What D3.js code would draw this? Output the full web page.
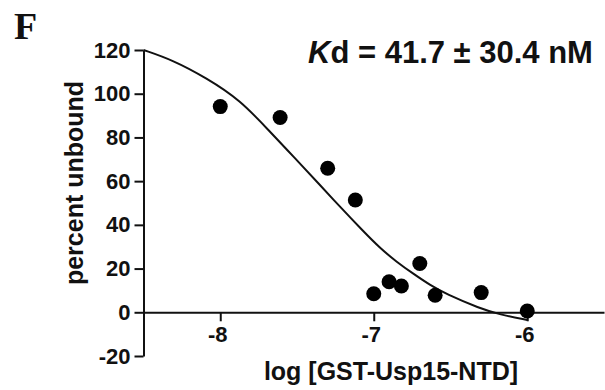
<!DOCTYPE html>
<html>
<head>
<meta charset="utf-8">
<script src="https://cdn.jsdelivr.net/npm/d3@7"></script>
<style>
  body { margin: 0; background: #fff; }
  svg { display: block; }
  text { font-family: "Liberation Sans", Arial, Helvetica, sans-serif; font-weight: bold; fill: #111; }
</style>
</head>
<body>
<div id="chart"></div>
<script>
// measured points: log [GST-Usp15-NTD] vs percent unbound
const logConc = [-8.0, -7.61, -7.30, -7.12, -7.0, -6.90, -6.82, -6.70, -6.60, -6.30, -6.0];
const unbound = [94.1, 89.1, 65.9, 51.4, 8.5, 14.0, 12.0, 22.3, 7.8, 9.0, 0.6];

// fitted curve
const fitX = [-8.50, -8.31, -8.09, -7.87, -7.68, -7.52, -7.35, -7.22, -7.07, -6.96, -6.85, -6.74, -6.63, -6.53, -6.31, -6.18, -6.00];
const fitY = [120.0, 115.4, 107.2, 97.1, 82.9, 71.0, 58.2, 48.3, 37.2, 29.4, 23.0, 17.5, 12.3, 8.4, 1.8, -1.0, -3.5];

const xTicks = [-8, -7, -6];
const yTicks = [-20, 0, 20, 40, 60, 80, 100, 120];

const width = 605, height = 390;

const svg = d3.select("#chart").append("svg")
  .attr("width", width)
  .attr("height", height);

const x = d3.scaleLinear().domain([-8.5, -5.5]).range([143.5, 604]);
const y = d3.scaleLinear().domain([-20, 120]).range([356, 50]);

// y axis
const yAxis = svg.append("g")
  .attr("transform", `translate(${x(-8.5)},0)`)
  .call(d3.axisLeft(y).tickValues(yTicks).tickSize(9).tickPadding(4).tickSizeOuter(0)
    .tickFormat(d => String(d)));
yAxis.select(".domain").attr("stroke", "#111").attr("stroke-width", 2);
yAxis.selectAll(".tick line").attr("stroke", "#111").attr("stroke-width", 2);
yAxis.selectAll(".tick text")
  .attr("font-size", 22)
  .attr("font-family", null)
  .style("fill", "#111");

// x axis at y = 0
const xAxis = svg.append("g")
  .attr("transform", `translate(0,${y(0)})`)
  .call(d3.axisBottom(x).tickValues(xTicks).tickSize(9).tickPadding(4).tickSizeOuter(0)
    .tickFormat(d => String(d)));
xAxis.select(".domain").attr("stroke", "#111").attr("stroke-width", 2);
xAxis.selectAll(".tick line").attr("stroke", "#111").attr("stroke-width", 2);
xAxis.selectAll(".tick text")
  .attr("font-size", 22)
  .attr("font-family", null)
  .attr("dx", -3)
  .attr("y", 14)
  .style("fill", "#111");

// fitted curve
const line = d3.line()
  .x((d, i) => x(fitX[i]))
  .y((d, i) => y(fitY[i]))
  .curve(d3.curveBasis);

svg.append("path")
  .datum(fitX)
  .attr("d", line)
  .attr("fill", "none")
  .attr("stroke", "#111")
  .attr("stroke-width", 2);

// points
svg.append("g")
  .selectAll("circle")
  .data(logConc)
  .join("circle")
  .attr("cx", d => x(d))
  .attr("cy", (d, i) => y(unbound[i]))
  .attr("r", 7.5)
  .attr("fill", "#000");

// axis titles
svg.append("text")
  .attr("x", 391)
  .attr("y", 380)
  .attr("text-anchor", "middle")
  .attr("font-size", 25)
  .text("log [GST-Usp15-NTD]");

svg.append("text")
  .attr("transform", "translate(83,183) rotate(-90)")
  .attr("text-anchor", "middle")
  .attr("font-size", 25)
  .text("percent unbound");

// Kd annotation
const kd = svg.append("text")
  .attr("x", 308)
  .attr("y", 63)
  .attr("font-size", 31);
kd.append("tspan").attr("font-style", "italic").text("K");
kd.append("tspan").text("d = 41.7 ± 30.4 nM");

// panel letter
svg.append("text")
  .attr("x", 14)
  .attr("y", 39)
  .attr("font-size", 38)
  .style("font-family", "'Liberation Serif', 'Times New Roman', serif")
  .text("F");
</script>
</body>
</html>
